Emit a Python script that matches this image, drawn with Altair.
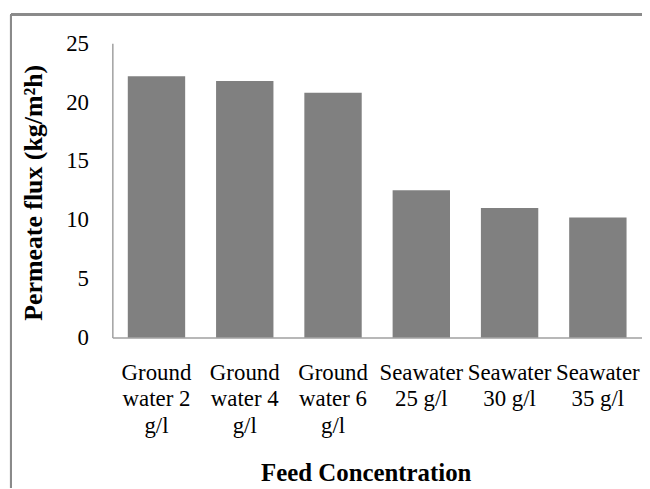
import altair as alt
import pandas as pd

categories = [
    "Ground\nwater 2\ng/l",
    "Ground\nwater 4\ng/l",
    "Ground\nwater 6\ng/l",
    "Seawater\n25 g/l",
    "Seawater\n30 g/l",
    "Seawater\n35 g/l",
]
flux = [22.2, 21.8, 20.8, 12.5, 11.0, 10.2]

df = pd.DataFrame({"feed": categories, "flux": flux})

FONT = "Liberation Serif"

bars = alt.Chart(df).mark_bar(color="#808080").encode(
    x=alt.X(
        "feed:N",
        sort=categories,
        scale=alt.Scale(paddingInner=0.35, paddingOuter=0.175),
        axis=alt.Axis(
            title="Feed Concentration",
            labelAngle=0,
            labelExpr="split(datum.label, '\\n')",
            labelLineHeight=27,
            labelFontSize=23,
            labelFont=FONT,
            labelColor="black",
            labelPadding=24,
            labelBaseline="top",
            ticks=False,
            domainColor="#a0a0a0",
            domainWidth=1.5,
            titleFont=FONT,
            titleFontSize=25,
            titleFontWeight="bold",
            titleColor="black",
            titleX=255,
            titleY=144,
            titleBaseline="alphabetic",
        ),
    ),
    y=alt.Y(
        "flux:Q",
        scale=alt.Scale(domain=[0, 25], nice=False),
        axis=alt.Axis(
            title="Permeate flux (kg/m²h)",
            values=[0, 5, 10, 15, 20, 25],
            grid=False,
            ticks=False,
            labelFontSize=23,
            labelFont=FONT,
            labelColor="black",
            labelPadding=24,
            domainColor="#a0a0a0",
            domainWidth=1.5,
            titleFont=FONT,
            titleFontSize=26,
            titleFontWeight="bold",
            titleColor="black",
            titleX=-66,
            titleY=150,
        ),
    ),
)

border_v = alt.Chart(df).mark_rule(color="#8a8a8a", strokeWidth=2).encode(
    x=alt.value(-102), y=alt.value(-29), y2=alt.value(470)
)
border_h = alt.Chart(df).mark_rule(color="#8a8a8a", strokeWidth=2).encode(
    x=alt.value(-102), x2=alt.value(540), y=alt.value(-29)
)

chart = (
    alt.layer(bars, border_v, border_h)
    .properties(
        width=533,
        height=296,
        background="white",
        autosize=alt.AutoSizeParams(type="none"),
        padding={"left": 105, "top": 34, "right": 0, "bottom": 150},
    )
    .configure_view(strokeWidth=0, stroke="transparent")
)

chart.save("out.html", embed_options={"renderer": "svg", "actions": False})
